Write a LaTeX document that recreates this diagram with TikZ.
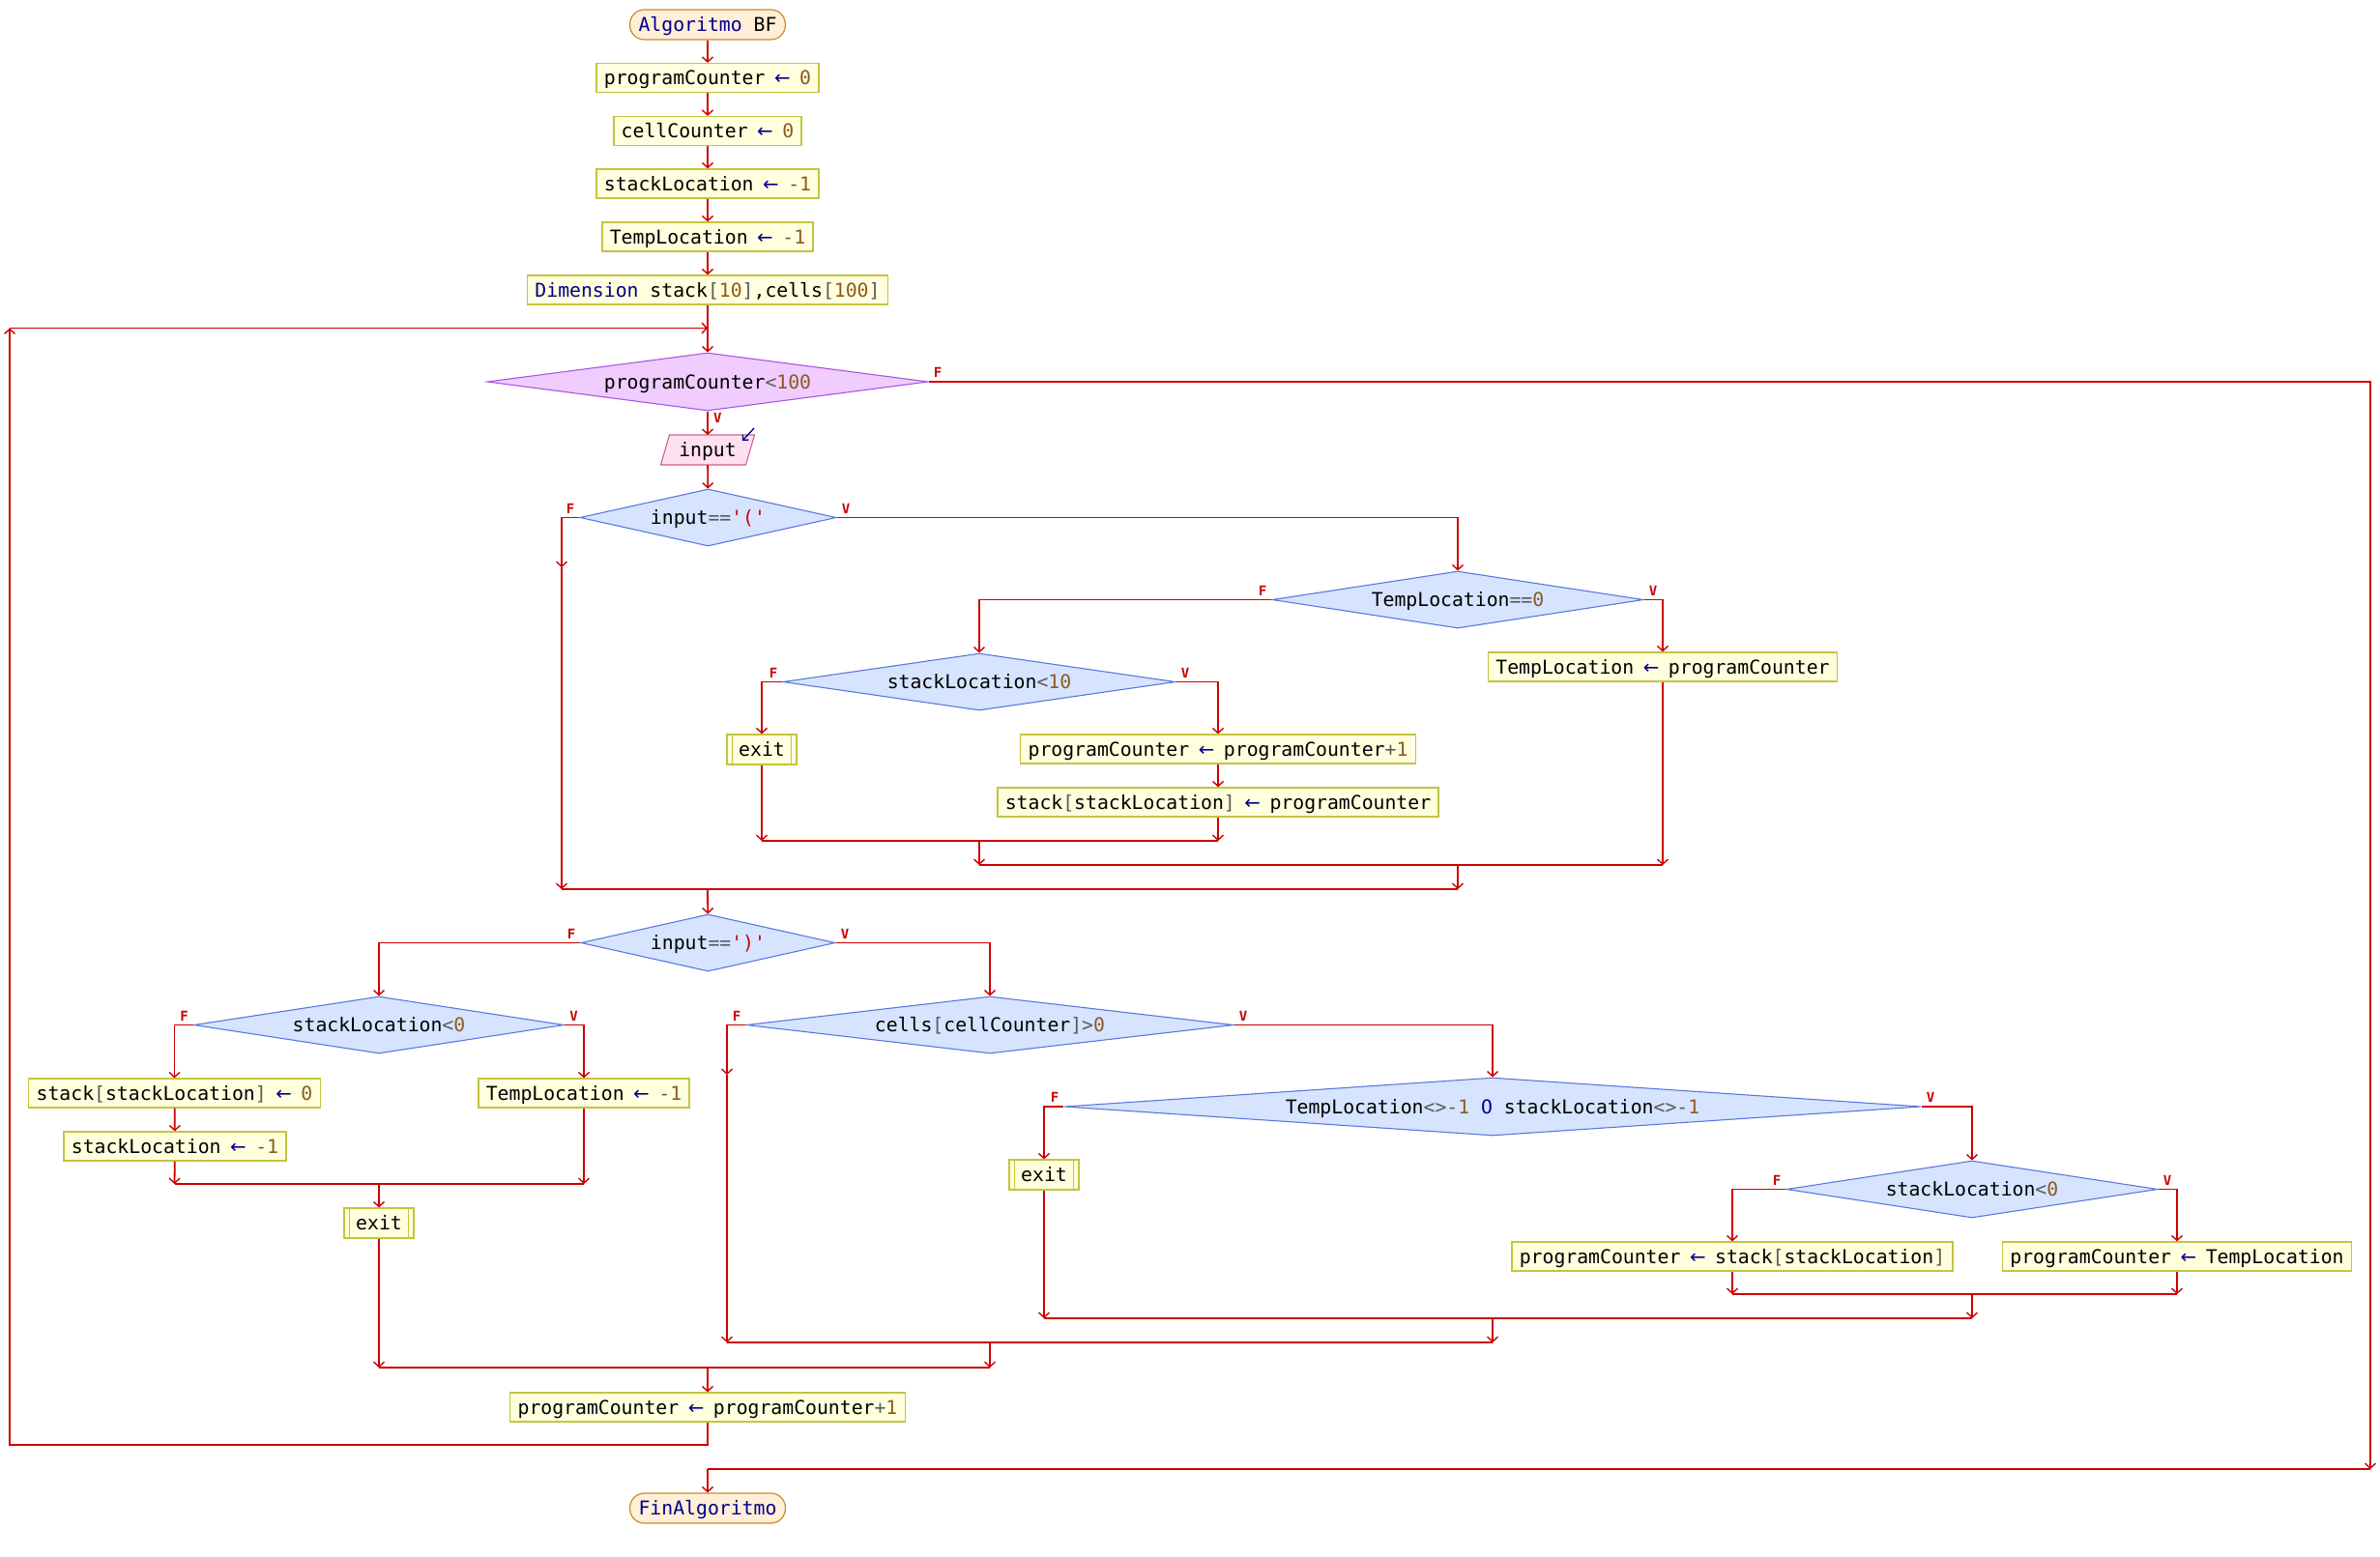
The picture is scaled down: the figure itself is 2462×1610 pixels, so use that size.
\documentclass[tikz,border=0pt]{standalone}
\usepackage{fontspec}
\setmonofont{DejaVu Sans Mono}
\newfontfamily\arrfont{DejaVu Sans}
\usetikzlibrary{arrows.meta,shapes.geometric,backgrounds}
\definecolor{flowred}{RGB}{204,0,0}
\definecolor{boxfill}{RGB}{255,255,221}
\definecolor{boxline}{RGB}{196,196,64}
\definecolor{termfill}{RGB}{255,239,214}
\definecolor{termline}{RGB}{204,136,51}
\definecolor{dfill}{RGB}{214,228,255}
\definecolor{dline}{RGB}{90,120,220}
\definecolor{pfill}{RGB}{240,204,255}
\definecolor{pline}{RGB}{170,85,221}
\definecolor{ifill}{RGB}{255,224,240}
\definecolor{iline}{RGB}{208,96,144}
\definecolor{kwc}{RGB}{0,0,140}
\definecolor{numc}{RGB}{140,90,30}
\definecolor{opc}{RGB}{90,90,90}
\definecolor{strc}{RGB}{200,0,0}
\newcommand\Kw[1]{\textcolor{kwc}{#1}}
\newcommand\Nm[1]{\textcolor{numc}{#1}}
\newcommand\Op[1]{\textcolor{opc}{#1}}
\newcommand\Sr[1]{\textcolor{strc}{#1}}
\newcommand\Asg{\makebox[35.7pt][c]{\arrfont\textcolor{kwc}{←}}}
\tikzset{
  txt/.style={text height=17.5pt, text depth=3.5pt},
  box/.style={txt, draw=boxline, fill=boxfill, line width=1.2pt, minimum height=30pt, inner xsep=7.8pt, inner ysep=0pt},
  term/.style={box, draw=termline, fill=termfill, rounded corners=15pt, inner xsep=9pt, minimum height=31pt},
  exitbox/.style={box, inner xsep=12.2pt, minimum height=31pt},
  dec/.style n args={3}{txt, diamond, draw=dline, fill=dfill, line width=1.1pt, inner sep=0pt, minimum width=#1, minimum height=#2, shape aspect=#3},
  pdec/.style n args={3}{dec={#1}{#2}{#3}, draw=pline, fill=pfill},
  flow/.style={draw=flowred, line width=1.8pt},
  arr/.style={flow, -{Straight Barb[length=5pt,width=11pt,line width=1.4pt]}},
  lbl/.style={text=flowred, font=\ttfamily\bfseries\fontsize{14pt}{16pt}\selectfont, inner sep=1pt},
  subline/.style={draw=boxline, line width=1.2pt},
}
\begin{document}
\begin{tikzpicture}[x=1pt,y=-1pt,font={\ttfamily\fontsize{19.77pt}{24pt}\selectfont}]
\useasboundingbox (0,0) rectangle (2462,1610);
% ---- nodes ----
\node[term] (start) at (732,25.5) {\Kw{Algoritmo} BF};
\node[box] (a1) at (732,80.5) {programCounter\Asg\Nm{0}};
\node[box] (a2) at (732,135.5) {cellCounter\Asg\Nm{0}};
\node[box] (a3) at (732,190) {stackLocation\Asg\Op{-}\Nm{1}};
\node[box] (a4) at (732,245) {TempLocation\Asg\Op{-}\Nm{1}};
\node[box] (a5) at (732,300) {\Kw{Dimension} stack\Op{[}\Nm{10}\Op{]},cells\Op{[}\Nm{100}\Op{]}};
\node[pdec={456pt}{60pt}{7.6}] (d0) at (732,395) {programCounter\Op{<}\Nm{100}};
\node[txt, minimum width=88pt, minimum height=31pt, inner sep=0pt, outer sep=0pt] (inp) at (732,465.5) {input};
\begin{pgfonlayer}{background}
\draw[draw=iline, fill=ifill, line width=1.1pt] ([xshift=-4.5pt]inp.south west) -- ([xshift=4.5pt]inp.north west) -- ([xshift=4.5pt]inp.north east) -- ([xshift=-4.5pt]inp.south east) -- cycle;
\end{pgfonlayer}
\coordinate (ic1) at (780,443);
\coordinate (ic2) at (768,456);
\draw[kwc, line width=1.3pt, -{Straight Barb[length=4pt,width=8pt]}] (ic1) -- (ic2);
\node[dec={265pt}{59pt}{4.49}] (d1) at (732.5,535.5) {input\Op{==}\Sr{'('}};
\node[dec={384pt}{59pt}{6.5}] (d2) at (1508,620.5) {TempLocation\Op{==}\Nm{0}};
\node[dec={406pt}{59pt}{6.88}] (d3) at (1013,705.5) {stackLocation\Op{<}\Nm{10}};
\node[exitbox] (ex1) at (788,775.5) {exit};
\node[box] (b1) at (1260,775) {programCounter\Asg programCounter\Op{+}\Nm{1}};
\node[box] (b2) at (1260,830) {stack\Op{[}stackLocation\Op{]}\Asg programCounter};
\node[box] (b3) at (1720,690) {TempLocation\Asg programCounter};
\node[dec={263pt}{59pt}{4.46}] (d4) at (732.5,975.5) {input\Op{==}\Sr{')'}};
\node[dec={383pt}{59pt}{6.5}] (d5) at (392,1060.5) {stackLocation\Op{<}\Nm{0}};
\node[box] (b4) at (180.5,1131) {stack\Op{[}stackLocation\Op{]}\Asg\Nm{0}};
\node[box] (b5) at (181,1186) {stackLocation\Asg\Op{-}\Nm{1}};
\node[box] (b6) at (604,1131) {TempLocation\Asg\Op{-}\Nm{1}};
\node[exitbox] (ex2) at (392,1265.5) {exit};
\node[dec={504pt}{59pt}{8.54}] (d6) at (1024,1060.5) {cells\Op{[}cellCounter\Op{]>}\Nm{0}};
\node[dec={886pt}{60pt}{14.77}] (d7) at (1544,1145) {TempLocation\Op{<>-}\Nm{1} \Kw{O} stackLocation\Op{<>-}\Nm{1}};
\node[exitbox] (ex3) at (1080,1215.5) {exit};
\node[dec={384pt}{59pt}{6.5}] (d8) at (2040,1230.5) {stackLocation\Op{<}\Nm{0}};
\node[box] (b7) at (1792,1300) {programCounter\Asg stack\Op{[}stackLocation\Op{]}};
\node[box] (b8) at (2252,1300) {programCounter\Asg TempLocation};
\node[box] (b9) at (732,1456) {programCounter\Asg programCounter\Op{+}\Nm{1}};
\node[term] (end) at (732,1560.5) {\Kw{FinAlgoritmo}};
% subprocess side lines
\foreach \e in {ex1,ex2,ex3}{
  \draw[subline] ([xshift=6pt]\e.north west) -- ([xshift=6pt]\e.south west);
  \draw[subline] ([xshift=-6pt]\e.north east) -- ([xshift=-6pt]\e.south east);
}
% ---- labels ----
\node[lbl, anchor=south west] (l0f) at ([xshift=4pt,yshift=3pt]d0.east) {F};
\node[lbl, anchor=north west] (l0v) at ([xshift=5pt,yshift=-1pt]d0.south) {V};
\node[lbl, anchor=south east] (l1f) at ([xshift=-4pt,yshift=3pt]d1.west) {F};
\node[lbl, anchor=south west] (l1v) at ([xshift=4pt,yshift=3pt]d1.east) {V};
\node[lbl, anchor=south east] (l2f) at ([xshift=-4pt,yshift=3pt]d2.west) {F};
\node[lbl, anchor=south west] (l2v) at ([xshift=4pt,yshift=3pt]d2.east) {V};
\node[lbl, anchor=south east] (l3f) at ([xshift=-4pt,yshift=3pt]d3.west) {F};
\node[lbl, anchor=south west] (l3v) at ([xshift=4pt,yshift=3pt]d3.east) {V};
\node[lbl, anchor=south east] (l4f) at ([xshift=-4pt,yshift=3pt]d4.west) {F};
\node[lbl, anchor=south west] (l4v) at ([xshift=4pt,yshift=3pt]d4.east) {V};
\node[lbl, anchor=south east] (l5f) at ([xshift=-4pt,yshift=3pt]d5.west) {F};
\node[lbl, anchor=south west] (l5v) at ([xshift=4pt,yshift=3pt]d5.east) {V};
\node[lbl, anchor=south east] (l6f) at ([xshift=-4pt,yshift=3pt]d6.west) {F};
\node[lbl, anchor=south west] (l6v) at ([xshift=4pt,yshift=3pt]d6.east) {V};
\node[lbl, anchor=south east] (l7f) at ([xshift=-4pt,yshift=3pt]d7.west) {F};
\node[lbl, anchor=south west] (l7v) at ([xshift=4pt,yshift=3pt]d7.east) {V};
\node[lbl, anchor=south east] (l8f) at ([xshift=-4pt,yshift=3pt]d8.west) {F};
\node[lbl, anchor=south west] (l8v) at ([xshift=4pt,yshift=3pt]d8.east) {V};
% ---- coordinates ----
\coordinate (j0) at (732,339.5);
\coordinate (lb1) at (732,1495);
\coordinate (lb2) at (10,1495);
\coordinate (lb3) at (10,339.5);
\coordinate (r1) at (2452,395);
\coordinate (r2) at (2452,1520);
\coordinate (r3) at (732,1520);
\coordinate (f1a) at (581,535.5);
\coordinate (f1b) at (581,587);
\coordinate (m1L) at (581,920);
\coordinate (m1R) at (1508,920);
\coordinate (m1C) at (732,920);
\coordinate (m2L) at (1013,895);
\coordinate (m2R) at (1720,895);
\coordinate (m2C) at (1508,895);
\coordinate (m3L) at (788,870);
\coordinate (m3R) at (1260,870);
\coordinate (m3C) at (1013,870);
\coordinate (m5L) at (180.5,1225);
\coordinate (m5R) at (604,1225);
\coordinate (m5C) at (392,1225);
\coordinate (f6a) at (752,1060.5);
\coordinate (f6b) at (752,1112);
\coordinate (m8L) at (1792,1339);
\coordinate (m8R) at (2252,1339);
\coordinate (m8C) at (2040,1339);
\coordinate (m7L) at (1080,1364);
\coordinate (m7R) at (2040,1364);
\coordinate (m7C) at (1544,1364);
\coordinate (m6L) at (752,1389);
\coordinate (m6R) at (1544,1389);
\coordinate (m6C) at (1024,1389);
\coordinate (m4L) at (392,1415);
\coordinate (m4R) at (1024,1415);
\coordinate (m4C) at (732,1415);
% ---- connectors ----
\draw[arr] (start) -- (a1);
\draw[arr] (a1) -- (a2);
\draw[arr] (a2) -- (a3);
\draw[arr] (a3) -- (a4);
\draw[arr] (a4) -- (a5);
\draw[flow] (a5) -- (j0);
\draw[arr] (j0) -- (d0);
\draw[arr] (b9) -- (lb1) -- (lb2) -- (lb3);
\draw[arr] (lb3) -- (j0);
\draw[arr] (d0.east) -- (r1) -- (r2);
\draw[flow] (r2) -- (r3);
\draw[arr] (r3) -- (end);
\draw[arr] (d0) -- (inp);
\draw[arr] (inp) -- (d1);
% input=='('
\draw[arr] (d1.west) -- (f1a) -- (f1b);
\draw[arr] (f1b) -- (m1L);
\draw[arr] (d1.east) -| (d2.north);
\draw[arr] (d2.west) -| (d3.north);
\draw[arr] (d2.east) -| (b3.north);
\draw[arr] (d3.west) -| (ex1.north);
\draw[arr] (d3.east) -| (b1.north);
\draw[arr] (b1) -- (b2);
\draw[arr] (ex1) -- (m3L);
\draw[arr] (b2) -- (m3R);
\draw[flow] (m3L) -- (m3R);
\draw[arr] (m3C) -- (m2L);
\draw[arr] (b3) -- (m2R);
\draw[flow] (m2L) -- (m2R);
\draw[arr] (m2C) -- (m1R);
\draw[flow] (m1L) -- (m1R);
\draw[arr] (m1C) -- (d4);
% input==')'
\draw[arr] (d4.west) -| (d5.north);
\draw[arr] (d4.east) -| (d6.north);
\draw[arr] (d5.west) -| (b4.north);
\draw[arr] (d5.east) -| (b6.north);
\draw[arr] (b4) -- (b5);
\draw[arr] (b5) -- (m5L);
\draw[arr] (b6) -- (m5R);
\draw[flow] (m5L) -- (m5R);
\draw[arr] (m5C) -- (ex2);
\draw[arr] (ex2) -- (m4L);
\draw[arr] (d6.west) -- (f6a) -- (f6b);
\draw[arr] (f6b) -- (m6L);
\draw[arr] (d6.east) -| (d7.north);
\draw[arr] (d7.west) -| (ex3.north);
\draw[arr] (d7.east) -| (d8.north);
\draw[arr] (d8.west) -| (b7.north);
\draw[arr] (d8.east) -| (b8.north);
\draw[arr] (b7) -- (m8L);
\draw[arr] (b8) -- (m8R);
\draw[flow] (m8L) -- (m8R);
\draw[arr] (m8C) -- (m7R);
\draw[arr] (ex3) -- (m7L);
\draw[flow] (m7L) -- (m7R);
\draw[arr] (m7C) -- (m6R);
\draw[flow] (m6L) -- (m6R);
\draw[arr] (m6C) -- (m4R);
\draw[flow] (m4L) -- (m4R);
\draw[arr] (m4C) -- (b9);
\end{tikzpicture}
\end{document}
